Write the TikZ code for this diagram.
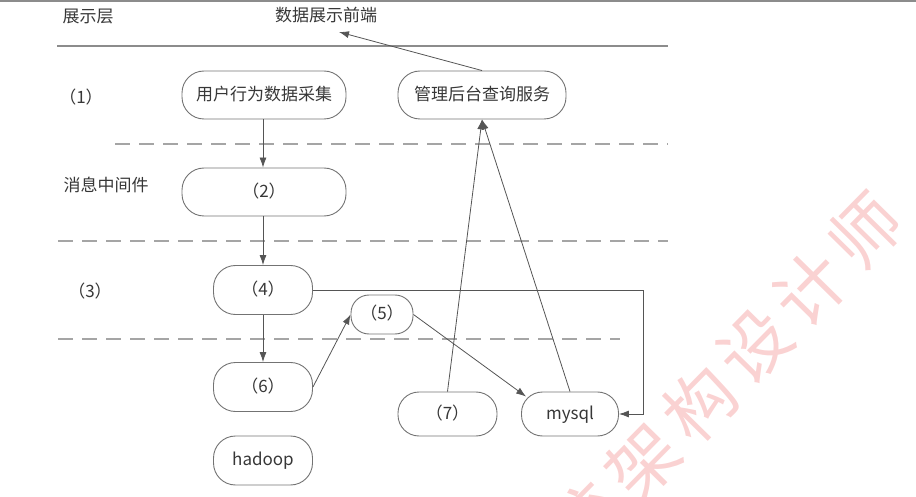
\documentclass[tikz,border=0pt]{standalone}
\usepackage{fontspec}
\newfontfamily\cjk{Noto Sans CJK SC}
\usetikzlibrary{arrows.meta,calc}
\definecolor{linegray}{RGB}{85,85,85}
\definecolor{boxgray}{RGB}{115,115,115}
\definecolor{dashgray}{RGB}{165,165,165}
\definecolor{sepgray}{RGB}{140,140,140}
\definecolor{txtgray}{RGB}{55,55,55}
\definecolor{wmpink}{RGB}{250,210,210}
\tikzset{
  pill/.style={draw=boxgray, line width=0.9pt, inner sep=0pt,
    font=\cjk\fontsize{17}{17}\selectfont, text=txtgray,
    text height=13.5pt, text depth=3pt},
  lbl/.style={font=\cjk\fontsize{17}{17}\selectfont, text=txtgray, inner sep=0pt},
  conn/.style={draw=linegray, line width=0.8pt, -{Latex[length=10pt,width=7pt]}},
  solidsep/.style={draw=sepgray, line width=1.4pt},
  dashsep/.style={draw=dashgray, line width=1.4pt, dash pattern=on 15pt off 9pt},
  wm/.style={font=\cjk\fontsize{70}{70}\selectfont, text=wmpink, inner sep=0pt, rotate=45.5}
}
\begin{document}
\begin{tikzpicture}[x=1pt,y=-1pt]
\useasboundingbox (0,0) rectangle (916,497);
% watermark
\begin{scope}
\clip (0,0) rectangle (916,497);
\node[wm] (w0) at (585,520) {统};
\node[wm] (w1) at (643,462) {架};
\node[wm] (w2) at (700,404) {构};
\node[wm] (w3) at (755,346) {设};
\node[wm] (w4) at (810,289) {计};
\node[wm] (w5) at (865,231) {师};
\end{scope}
% separators
\draw[solidsep] (0,1) -- (916,1);
\draw[solidsep] (57,46) -- (668,46);
\draw[dashsep] (115,144) -- (668,144);
\draw[dashsep] (58,241) -- (668,241);
\draw[dashsep] (58,339) -- (620,339);
% labels
\node[lbl] (l0) at (88,17) {展示层};
\node[lbl] (front) at (326,15) {数据展示前端};
\node[lbl] (l1) at (81,97) {（1）};
\node[lbl] (l2) at (106,185) {消息中间件};
\node[lbl] (l3) at (90,291) {（3）};
% nodes
\node[pill, minimum width=164pt, minimum height=48pt, rounded corners=22pt] (u) at (264,95) {用户行为数据采集};
\node[pill, minimum width=168pt, minimum height=48pt, rounded corners=22pt] (mg) at (482,95) {管理后台查询服务};
\node[pill, minimum width=164pt, minimum height=48pt, rounded corners=22pt] (n2) at (264,192) {（2）};
\node[pill, minimum width=99pt, minimum height=49pt, rounded corners=22pt] (n4) at (263,290) {（4）};
\node[pill, minimum width=62pt, minimum height=39pt, rounded corners=18pt] (n5) at (382,314.5) {（5）};
\node[pill, minimum width=99pt, minimum height=49pt, rounded corners=22pt] (n6) at (263,387) {（6）};
\node[pill, minimum width=99pt, minimum height=44pt, rounded corners=21pt] (n7) at (447.5,414) {（7）};
\node[pill, minimum width=97pt, minimum height=44pt, rounded corners=21pt] (my) at (570,414) {mysql};
\node[pill, minimum width=99pt, minimum height=49pt, rounded corners=22pt] (hd) at (263,460.5) {hadoop};
% connectors
\coordinate (fronttip) at (339,32);
\coordinate (mytip) at ($(my.north west)+(5,5)$);
\coordinate (corner) at ($(my.east)+(24,0)$);
\draw[conn] (mg.north) -- (fronttip);
\draw[conn] (u.south -| n4.north) -- (n2.north -| n4.north);
\draw[conn] (n2.south -| n4.north) -- (n4.north);
\draw[conn] (n4.south) -- (n6.north);
\draw[conn] (n6.east) -- (n5.west);
\draw[conn] (n5.east) -- (mytip);
\draw[conn] (n4.east) -- (n4.east -| corner) -- (corner) -- (my.east);
\draw[conn] (n7.north) -- (mg.south);
\draw[conn] (my.north) -- (mg.south);
\end{tikzpicture}
\end{document}
